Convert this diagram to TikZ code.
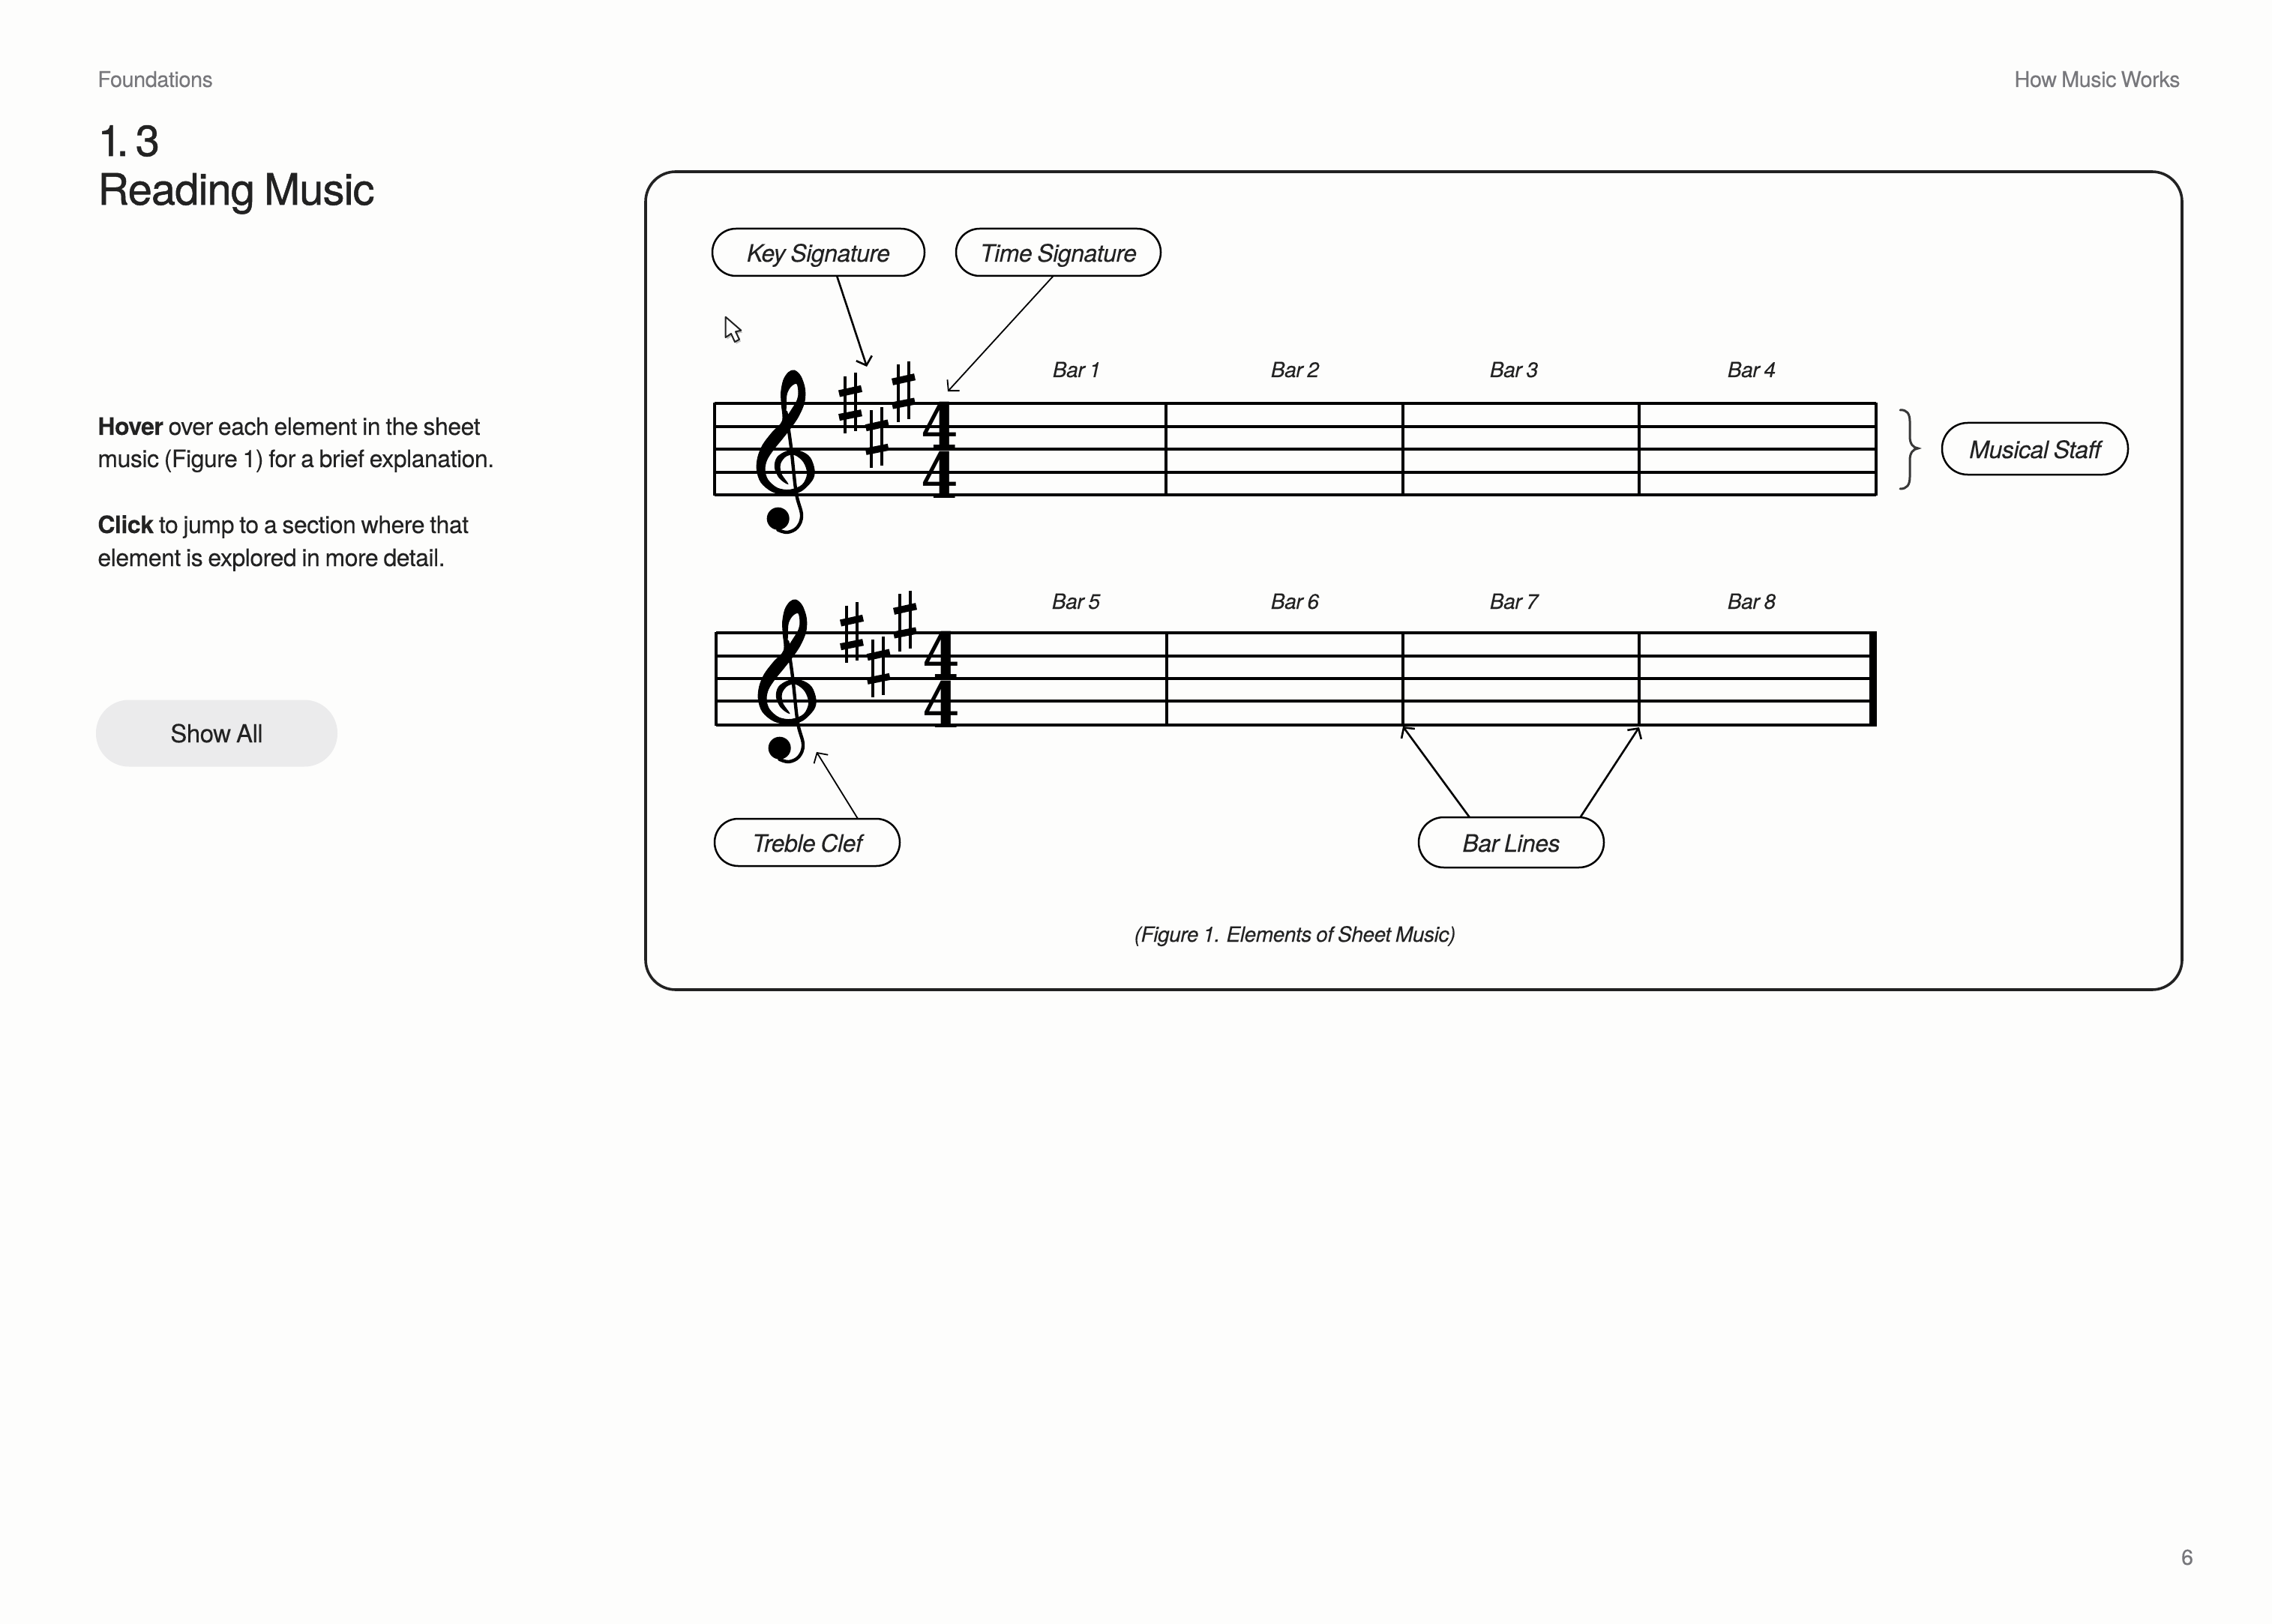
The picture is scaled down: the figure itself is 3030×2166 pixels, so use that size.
\documentclass[tikz,border=0pt]{standalone}
\usepackage{fontspec}
\usetikzlibrary{arrows.meta}
\newfontfamily\hv{TeX Gyre Heros}[LetterSpace=-1.5,WordSpace=0.8,FakeBold=0.15]
\newfontfamily\hvstrong{TeX Gyre Heros}[LetterSpace=-1.5,WordSpace=0.8,FakeBold=0.3]
\newfontfamily\hvtitle{TeX Gyre Heros}[LetterSpace=-1.5,WordSpace=0.8,FakeBold=0.9]
\newfontfamily\digitfont{DejaVu Serif}
\definecolor{ink}{HTML}{222222}
\definecolor{greytext}{HTML}{77777B}
\definecolor{paper}{HTML}{FDFDFC}
\definecolor{buttonfill}{HTML}{EBEBEC}
\tikzset{
  staffline/.style={line width=1.65pt,black},
  barline/.style={line width=1.7pt,black},
  pill/.style={draw=black,line width=1.25pt,rounded corners=15.7pt,minimum height=31.5pt,inner sep=0pt,outer sep=0pt,
     font=\hv\itshape\fontsize{16}{16}\selectfont,text=ink,text height=12.5pt,text depth=0pt},
  barlabel/.style={anchor=base,inner sep=0pt,font=\hv\itshape\fontsize{14}{14}\selectfont,text=ink},
  body/.style={anchor=base west,inner sep=0pt,font=\hv\fontsize{16}{16}\selectfont,text=ink},
  meta/.style={inner sep=0pt,font=\hv\fontsize{14.4}{14.4}\selectfont,text=greytext},
  heading/.style={anchor=base west,inner sep=0pt,font=\hvtitle\fontsize{28.9}{28.9}\selectfont,text=ink},
  digit/.style={anchor=base,inner sep=0pt,xscale=.85,font=\digitfont\bfseries\fontsize{42}{42}\selectfont,text=black},
  heavyarrow/.style={line width=1.3pt,black,-{Straight Barb[length=5pt,width=11pt]}},
  lightarrow/.style={line width=.9pt,black,-{Straight Barb[length=5pt,width=11pt]}},
  sharpsign/.pic={
    \draw[line width=2pt,black] (680,665)--(680,895) (722,652)--(722,885);
    \draw[line width=4.6pt,black] (657,735)--(747,715) (657,830)--(747,812);
  },
  clefsign/.pic={
    \filldraw[black,even odd rule,line width=.5pt]
      plot[smooth cycle,tension=.55] coordinates {(178,12)(203,35)(220,85)(218,140)(195,195)(165,240)(130,285)(95,328)(68,370)(60,410)(72,450)(110,483)(160,490)(210,470)(230,425)(215,378)(180,350)(145,355)(122,385)(125,425)(152,466)(118,442)(100,400)(110,360)(150,335)(200,335)(240,360)(258,410)(250,450)(205,495)(150,510)(90,497)(45,460)(28,410)(32,360)(52,310)(90,260)(130,215)(127,150)(125,100)(135,50)(155,20)}
      plot[smooth cycle,tension=.55] coordinates {(188,65)(195,100)(190,130)(170,165)(147,195)(145,150)(148,105)(165,75)};
    \draw[black,line width=2.2pt,line cap=round] plot[smooth,tension=.6] coordinates {(145,180)(165,320)(185,500)(207,590)(190,640)(150,660)(112,650)};
    \fill[black] (113,605) circle (45);
  },
}
\begin{document}
\begin{tikzpicture}[x=.5pt,y=-.5pt]
\useasboundingbox (0,0) rectangle (3030,2166);
\fill[paper] (0,0) rectangle (3030,2166);

% header and left column
\node[meta,anchor=base west] (section) at (130,116) {Foundations};
\node[meta,anchor=base east] (book) at (2908,116) {How Music Works};
\node[heading] (number) at (130,208) {1\kern-3.5pt. \kern-4pt 3};
\node[heading] (title) at (130,273) {Reading Music};
\node[body] (l1) at (130,580) {{\hvstrong\bfseries Hover} over each element in the sheet};
\node[body] (l2) at (130,623) {music (Figure 1) for a brief explanation.};
\node[body] (l3) at (130,711) {{\hvstrong\bfseries Click} to jump to a section where that};
\node[body] (l4) at (130,755) {element is explored in more detail.};
\node[fill=buttonfill,rounded corners=22pt,minimum width=161pt,minimum height=44.5pt,inner sep=0pt,font=\hv\fontsize{16.5}{16.5}\selectfont,text=ink] (showall) at (289,978) {Show All};
\node[meta,anchor=base] (page) at (2917,2087) {6};

% panel
\draw[line width=1.8pt,ink,rounded corners=20pt] (861,229) rectangle (2910,1320);

% staves
\foreach \yy in {538,569,599,630,660} \draw[staffline] (953,\yy) -- (2502,\yy);
\foreach \xx in {953,1555,1871,2186,2502} \draw[barline] (\xx,537) -- (\xx,661);
\foreach \yy in {844,875,905,935,967} \draw[staffline] (955,\yy) -- (2503,\yy);
\foreach \xx in {955,1556,1871,2186} \draw[barline] (\xx,843) -- (\xx,968);
\fill[black] (2493,843) rectangle (2503,968);

% clefs and key signatures, drawn in zoom units
\begin{scope}[shift={(900,280)},x=.16667pt,y=-.16667pt]
  \pic at (300,630) {clefsign};
  \pic at (0,0) {sharpsign};
  \pic at (107,137) {sharpsign};
  \pic at (213,-47) {sharpsign};
\end{scope}
\begin{scope}[shift={(902,586)},x=.16667pt,y=-.16667pt]
  \pic at (300,630) {clefsign};
  \pic at (0,0) {sharpsign};
  \pic at (107,137) {sharpsign};
  \pic at (213,-47) {sharpsign};
\end{scope}

% time signatures
\node[digit] (t1a) at (1253,598) {4};
\node[digit] (t1b) at (1253,664) {4};
\node[digit] (t2a) at (1255,904) {4};
\node[digit] (t2b) at (1255,970) {4};

% bar labels
\node[barlabel] (b1) at (1436,503) {Bar 1};
\node[barlabel] (b2) at (1727,503) {Bar 2};
\node[barlabel] (b3) at (2019,503) {Bar 3};
\node[barlabel] (b4) at (2336,503) {Bar 4};
\node[barlabel] (b5) at (1435,812) {Bar 5};
\node[barlabel] (b6) at (1727,812) {Bar 6};
\node[barlabel] (b7) at (2019,812) {Bar 7};
\node[barlabel] (b8) at (2336,812) {Bar 8};

% callouts
\node[pill,minimum width=141.5pt] (key) at (1091.5,336.5) {Key Signature};
\node[pill,minimum width=136.5pt] (time) at (1411.5,336.5) {Time Signature};
\node[pill,minimum width=124pt,minimum height=34.5pt,rounded corners=17pt] (staff) at (2714,598.5) {Musical Staff};
\node[pill,minimum width=123.5pt] (treble) at (1076.5,1123.5) {Treble Clef};
\node[pill,minimum width=123.5pt,minimum height=33.5pt,rounded corners=16.7pt] (bars) at (2015.5,1123.5) {Bar Lines};
\node[barlabel] (caption) at (1727,1256) {(Figure 1. Elements of Sheet Music)};

% connector ends
\coordinate (keyend) at (1156,489);
\coordinate (timeend) at (1264,522);
\coordinate (trebleend) at (1089,1003);
\coordinate (barA) at (1871,969);
\coordinate (barB) at (2186,970);
\draw[heavyarrow] (key.-52) -- (keyend);
\draw[lightarrow] (time.258.7) -- (timeend);
\draw[lightarrow] (treble.25) -- (trebleend);
\draw[heavyarrow] (bars.149.3) -- (barA);
\draw[heavyarrow] (bars.20.7) -- (barB);

% brace
\draw[line width=1.5pt,ink!90,line cap=round]
  (2534,547) .. controls (2543,546) and (2547,552) .. (2547,562)
  -- (2547,582) .. controls (2547,592) and (2551,597) .. (2558,598)
  .. controls (2551,599) and (2547,604) .. (2547,614)
  -- (2547,636) .. controls (2547,647) and (2543,652) .. (2534,652);

% cursor
\begin{scope}[shift={(900,280)},x=.16667pt,y=-.16667pt]
  \fill[black!25] (209,436)--(209,518)--(231,503)--(246,536)--(264,526)--(249,495)--(271,490)--cycle;
  \draw[line width=1pt,ink,fill=white,line join=round] (203,428)--(203,510)--(225,495)--(240,528)--(258,518)--(243,487)--(265,482)--cycle;
\end{scope}
\end{tikzpicture}
\end{document}
